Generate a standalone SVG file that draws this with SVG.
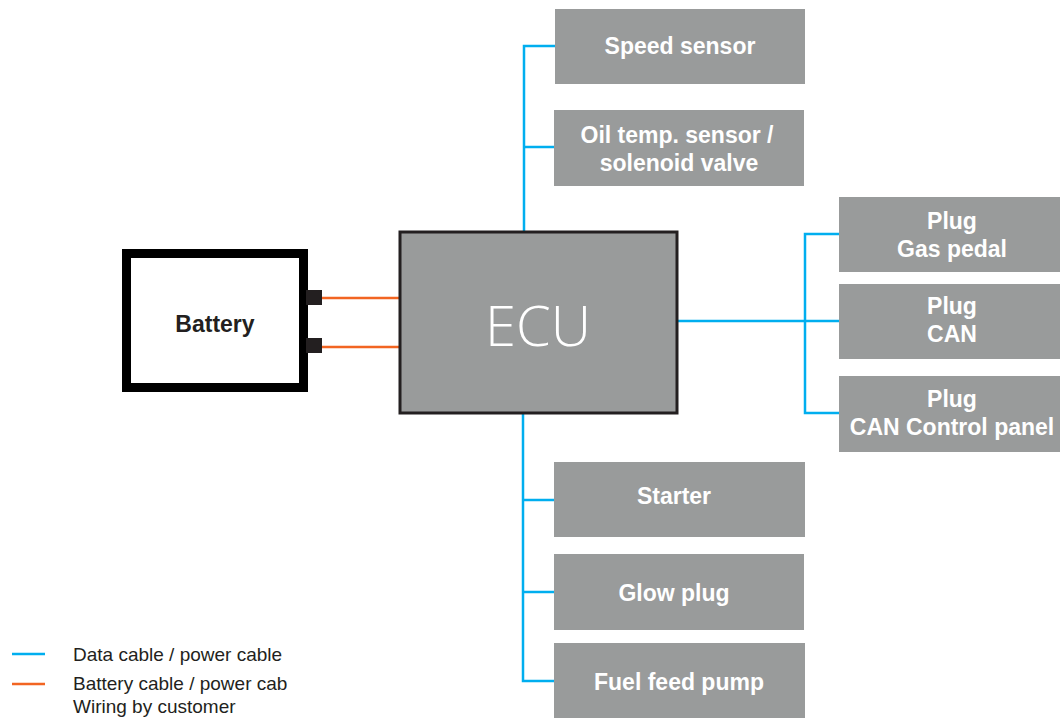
<svg xmlns="http://www.w3.org/2000/svg" width="1060" height="718" viewBox="0 0 1060 718">
<style>
.box{fill:#999b9b}
.lbl{font-family:"Liberation Sans",Arial,sans-serif;font-weight:bold;font-size:23px;fill:#ffffff;text-anchor:middle}
.blue{stroke:#00aeef;stroke-width:2.5;fill:none}
.orange{stroke:#f26522;stroke-width:2.5;fill:none}
.leg{font-family:"Liberation Sans",Arial,sans-serif;font-size:19px;fill:#231f20}
</style>
<rect width="1060" height="718" fill="#ffffff"/>
<g id="connectors">
<polyline class="blue" points="555,46 524,46 524,232"/>
<line class="blue" x1="524" y1="147" x2="554" y2="147"/>
<polyline class="blue" points="839,234 805,234 805,413 839,413"/>
<line class="blue" x1="677" y1="321" x2="839" y2="321"/>
<polyline class="blue" points="523,413 523,681 554,681"/>
<line class="blue" x1="523" y1="500" x2="554" y2="500"/>
<line class="blue" x1="523" y1="592" x2="554" y2="592"/>
<line class="orange" x1="322" y1="298" x2="400" y2="298"/>
<line class="orange" x1="322" y1="347" x2="400" y2="347"/>
</g>
<g id="battery">
<rect x="126.5" y="253.5" width="177" height="134" fill="#ffffff" stroke="#000000" stroke-width="9"/>
<rect x="306" y="290" width="16" height="15" fill="#231f20"/>
<rect x="306" y="338" width="16" height="15" fill="#231f20"/>
<text x="215" y="332" text-anchor="middle" font-family="Liberation Sans,Arial,sans-serif" font-weight="bold" font-size="23" fill="#231f20">Battery</text>
</g>
<g id="ecu">
<rect x="400" y="232" width="277" height="181" class="box" stroke="#231f20" stroke-width="3"/>
<text x="538" y="346" text-anchor="middle" font-family="Open Sans,Liberation Sans,sans-serif" font-weight="300" font-size="56" fill="#ffffff">ECU</text>
</g>
<g id="speed-sensor">
<rect class="box" x="555" y="9" width="250" height="75"/>
<text class="lbl" x="680" y="54">Speed sensor</text>
</g>
<g id="oil-temp">
<rect class="box" x="554" y="110" width="250" height="76"/>
<text class="lbl" x="677" y="143">Oil temp. sensor /</text>
<text class="lbl" x="679" y="171">solenoid valve</text>
</g>
<g id="plug-gas">
<rect class="box" x="839" y="197" width="221" height="75"/>
<text class="lbl" x="952" y="229">Plug</text>
<text class="lbl" x="952" y="257">Gas pedal</text>
</g>
<g id="plug-can">
<rect class="box" x="839" y="284" width="221" height="75"/>
<text class="lbl" x="952" y="314">Plug</text>
<text class="lbl" x="952" y="342">CAN</text>
</g>
<g id="plug-can-panel">
<rect class="box" x="839" y="376" width="221" height="76"/>
<text class="lbl" x="952" y="407">Plug</text>
<text class="lbl" x="952" y="435">CAN Control panel</text>
</g>
<g id="starter">
<rect class="box" x="554" y="462" width="251" height="75"/>
<text class="lbl" x="674" y="504">Starter</text>
</g>
<g id="glow-plug">
<rect class="box" x="554" y="554" width="250" height="76"/>
<text class="lbl" x="674" y="601">Glow plug</text>
</g>
<g id="fuel-pump">
<rect class="box" x="554" y="643" width="251" height="75"/>
<text class="lbl" x="679" y="690">Fuel feed pump</text>
</g>
<g id="legend">
<line class="blue" x1="12" y1="654" x2="45" y2="654"/>
<line class="orange" x1="12" y1="684" x2="45" y2="684"/>
<text class="leg" x="73" y="661">Data cable / power cable</text>
<text class="leg" x="73" y="690">Battery cable / power cab</text>
<text class="leg" x="73" y="713">Wiring by customer</text>
</g>
</svg>
